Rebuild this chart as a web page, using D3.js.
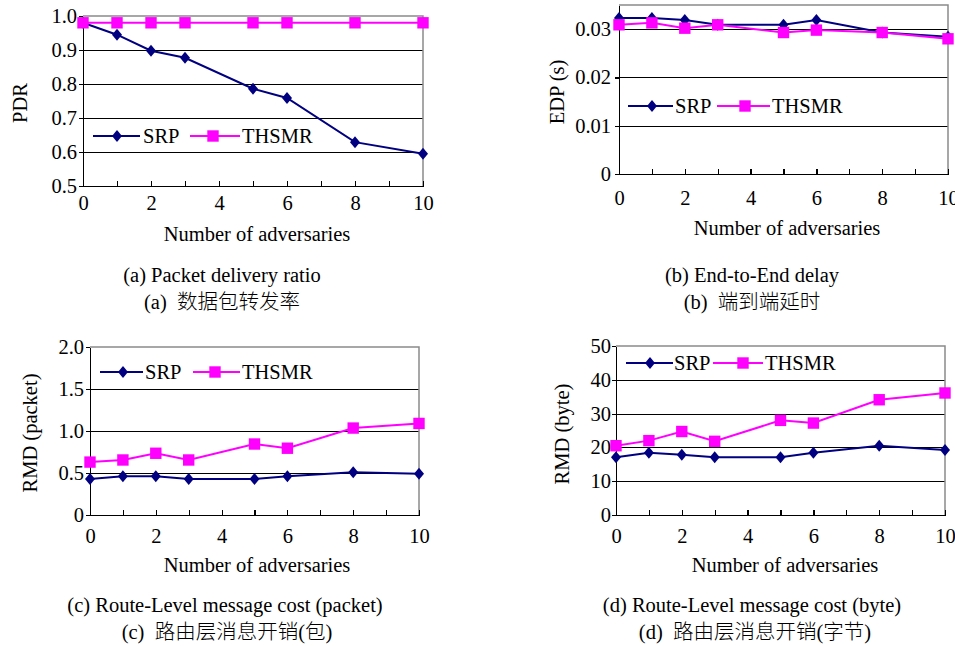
<!DOCTYPE html>
<html><head><meta charset="utf-8">
<script src="https://cdn.jsdelivr.net/npm/d3@7"></script>
<style>
body{margin:0;background:#fff}
svg{display:block}
text{font-family:"Liberation Serif","Times New Roman","Noto Sans CJK SC",serif;fill:#000;white-space:pre}
.zh{font-weight:300}
</style>
</head><body><svg id="c" width="955" height="646"></svg>
<script>
// ---- data ----
const adversaries = [0, 1, 2, 3, 5, 6, 8, 10];
const xTickValues = [0, 2, 4, 6, 8, 10];
const seriesNames = ["SRP", "THSMR"];
const xTitle = "Number of adversaries";

const pdrSRP   = [0.98, 0.945, 0.898, 0.877, 0.786, 0.759, 0.629, 0.595];
const pdrTHSMR = [0.98, 0.98, 0.98, 0.98, 0.98, 0.98, 0.98, 0.98];
const pdrTicks = [0.5, 0.6, 0.7, 0.8, 0.9, 1.0];

const edpSRP   = [0.0323, 0.0323, 0.0319, 0.0309, 0.0309, 0.0319, 0.0293, 0.0284];
const edpTHSMR = [0.0309, 0.0313, 0.0302, 0.0309, 0.0293, 0.0298, 0.0293, 0.0280];
const edpTicks = [0, 0.01, 0.02, 0.03];

const rmdPacketSRP   = [0.43, 0.46, 0.46, 0.43, 0.43, 0.46, 0.51, 0.49];
const rmdPacketTHSMR = [0.63, 0.655, 0.735, 0.655, 0.845, 0.795, 1.035, 1.09];
const rmdPacketTicks = [0, 0.5, 1.0, 1.5, 2.0];

const rmdByteSRP   = [17.1, 18.4, 17.8, 17.1, 17.1, 18.4, 20.5, 19.2];
const rmdByteTHSMR = [20.5, 22.0, 24.7, 21.8, 28.0, 27.2, 34.1, 36.1];
const rmdByteTicks = [0, 10, 20, 30, 40, 50];

const yTitles = ["PDR", "EDP (s)", "RMD (packet)", "RMD (byte)"];
const captionsEn = ["(a) Packet delivery ratio", "(b) End-to-End delay",
  "(c) Route-Level message cost (packet)", "(d) Route-Level message cost (byte)"];
const captionsZh = ["(a)  数据包转发率", "(b)  端到端延时", "(c)  路由层消息开销(包)", "(d)  路由层消息开销(字节)"];

// ---- drawing ----
const svg = d3.select("#c");
const COLORS = ["#000080", "#ff00ff"];
const FS = 20.5;

function panel(cfg) {
  const g = svg.append("g");
  const x = d3.scaleLinear().domain([0, 10]).range([cfg.left, cfg.right]);
  const y = d3.scaleLinear().domain(cfg.yDomain).range([cfg.bottom, cfg.top]);

  g.selectAll("line.grid")
    .data(cfg.yTicks.filter(v => v > cfg.yDomain[0] && v < cfg.yDomain[1]))
    .join("line").attr("class", "grid")
    .attr("x1", cfg.left).attr("x2", cfg.right)
    .attr("y1", d => Math.round(y(d)) + 0.5).attr("y2", d => Math.round(y(d)) + 0.5)
    .attr("stroke", "#000").attr("stroke-width", 1);

  g.append("path")
    .attr("d", `M${cfg.left},${y(cfg.yDomain[1])}H${cfg.right}V${cfg.bottom}`)
    .attr("fill", "none").attr("stroke", "#8a8a8a").attr("stroke-width", 1.5);

  const ya = g.append("g").attr("transform", `translate(${cfg.left},0)`)
    .call(d3.axisLeft(y).tickValues(cfg.yTicks).tickFormat(cfg.fmt)
      .tickSize(4).tickSizeOuter(0).tickPadding(cfg.yPad));
  ya.select(".domain").attr("stroke", "#000").attr("stroke-width", 1.6);
  ya.selectAll(".tick line").attr("stroke", "#000").attr("stroke-width", 1.2);
  ya.selectAll("text").attr("font-size", FS).attr("font-family", null);

  const xa = g.append("g").attr("transform", `translate(0,${cfg.bottom})`)
    .call(d3.axisBottom(x).tickValues(d3.range(0, 11)).tickSize(-5).tickSizeOuter(0)
      .tickPadding(cfg.xPad).tickFormat(d => xTickValues.includes(d) ? d : ""));
  xa.select(".domain").attr("stroke", "#000").attr("stroke-width", 1.6);
  xa.selectAll(".tick line").attr("stroke", "#000").attr("stroke-width", 1.2);
  xa.selectAll("text").attr("font-size", FS).attr("font-family", null);
  g.selectAll(".domain, .tick line").attr("shape-rendering", "crispEdges");

  const line = d3.line().x((d, i) => x(adversaries[i])).y(d => y(d));
  cfg.series.forEach((vals, si) => {
    g.append("path").attr("d", line(vals)).attr("fill", "none")
      .attr("stroke", COLORS[si]).attr("stroke-width", 2);
    g.selectAll(null).data(vals).join("path")
      .attr("transform", (d, i) => `translate(${x(adversaries[i])},${y(d)})`)
      .attr("d", si === 0 ? "M0,-6L5,0L0,6L-5,0Z" : "M-5.7,-5.7H5.7V5.7H-5.7Z")
      .attr("fill", COLORS[si]);
  });

  const L = cfg.legend;
  L.items.forEach((it, si) => {
    g.append("line").attr("x1", it[0]).attr("x2", it[1]).attr("y1", L.y).attr("y2", L.y)
      .attr("stroke", COLORS[si]).attr("stroke-width", 2);
    g.append("path").attr("transform", `translate(${it[2]},${L.y})`)
      .attr("d", si === 0 ? "M0,-6L5,0L0,6L-5,0Z" : "M-5.7,-5.7H5.7V5.7H-5.7Z")
      .attr("fill", COLORS[si]);
    g.append("text").attr("x", it[3]).attr("y", L.y).attr("dy", "0.35em")
      .attr("font-size", FS).text(seriesNames[si]);
  });

  g.append("text").attr("x", cfg.xTitle[0]).attr("y", cfg.xTitle[1])
    .attr("text-anchor", "middle").attr("font-size", FS).text(xTitle);
  g.append("text").attr("transform", `translate(${cfg.yTitle[0]},${cfg.yTitle[1]}) rotate(-90)`)
    .attr("text-anchor", "middle").attr("dy", "0.35em").attr("font-size", FS).text(cfg.yTitleText);

  g.append("text").attr("x", cfg.cap[0]).attr("y", cfg.cap[1]).attr("dy", "0.35em")
    .attr("text-anchor", "middle").attr("font-size", FS).text(cfg.capEn);
  g.append("text").attr("class", "zh").attr("x", cfg.cap[2]).attr("y", cfg.cap[3]).attr("dy", "0.35em")
    .attr("text-anchor", "middle").attr("font-size", FS).text(cfg.capZh);
}

panel({
  left: 83, right: 423, top: 16, bottom: 186, yDomain: [0.5, 1.0], yTicks: pdrTicks,
  fmt: d3.format(".1f"), yPad: 2, xPad: 9,
  series: [pdrSRP, pdrTHSMR],
  legend: { y: 136, items: [[93, 140, 117, 143], [190, 240, 213, 242]] },
  xTitle: [257, 241], yTitle: [20, 103], yTitleText: yTitles[0],
  cap: [222, 275, 222, 302], capEn: captionsEn[0], capZh: captionsZh[0]
});
panel({
  left: 619, right: 948, top: 5, bottom: 174, yDomain: [0, 0.035], yTicks: edpTicks,
  fmt: d => d === 0 ? "0" : d3.format(".2f")(d), yPad: 4, xPad: 16,
  series: [edpSRP, edpTHSMR],
  legend: { y: 106, items: [[628, 673, 652, 675], [717, 770, 745, 772]] },
  xTitle: [787, 235], yTitle: [557, 92], yTitleText: yTitles[1],
  cap: [752, 275, 752, 302], capEn: captionsEn[1], capZh: captionsZh[1]
});
panel({
  left: 90, right: 419, top: 347, bottom: 515, yDomain: [0, 2.0], yTicks: rmdPacketTicks,
  fmt: d => d === 0 ? "0" : d3.format(".1f")(d), yPad: 2, xPad: 13,
  series: [rmdPacketSRP, rmdPacketTHSMR],
  legend: { y: 372, items: [[100, 143, 123, 145], [193, 240, 215, 242]] },
  xTitle: [257, 572], yTitle: [30, 433], yTitleText: yTitles[2],
  cap: [225, 605, 227, 632], capEn: captionsEn[2], capZh: captionsZh[2]
});
panel({
  left: 616, right: 945, top: 346, bottom: 515, yDomain: [0, 50], yTicks: rmdByteTicks,
  fmt: d3.format("d"), yPad: 1, xPad: 13,
  series: [rmdByteSRP, rmdByteTHSMR],
  legend: { y: 363, items: [[626, 673, 650, 674], [713, 763, 743, 765]] },
  xTitle: [785, 572], yTitle: [562, 434], yTitleText: yTitles[3],
  cap: [752, 605, 755, 632], capEn: captionsEn[3], capZh: captionsZh[3]
});
</script>
</body></html>
